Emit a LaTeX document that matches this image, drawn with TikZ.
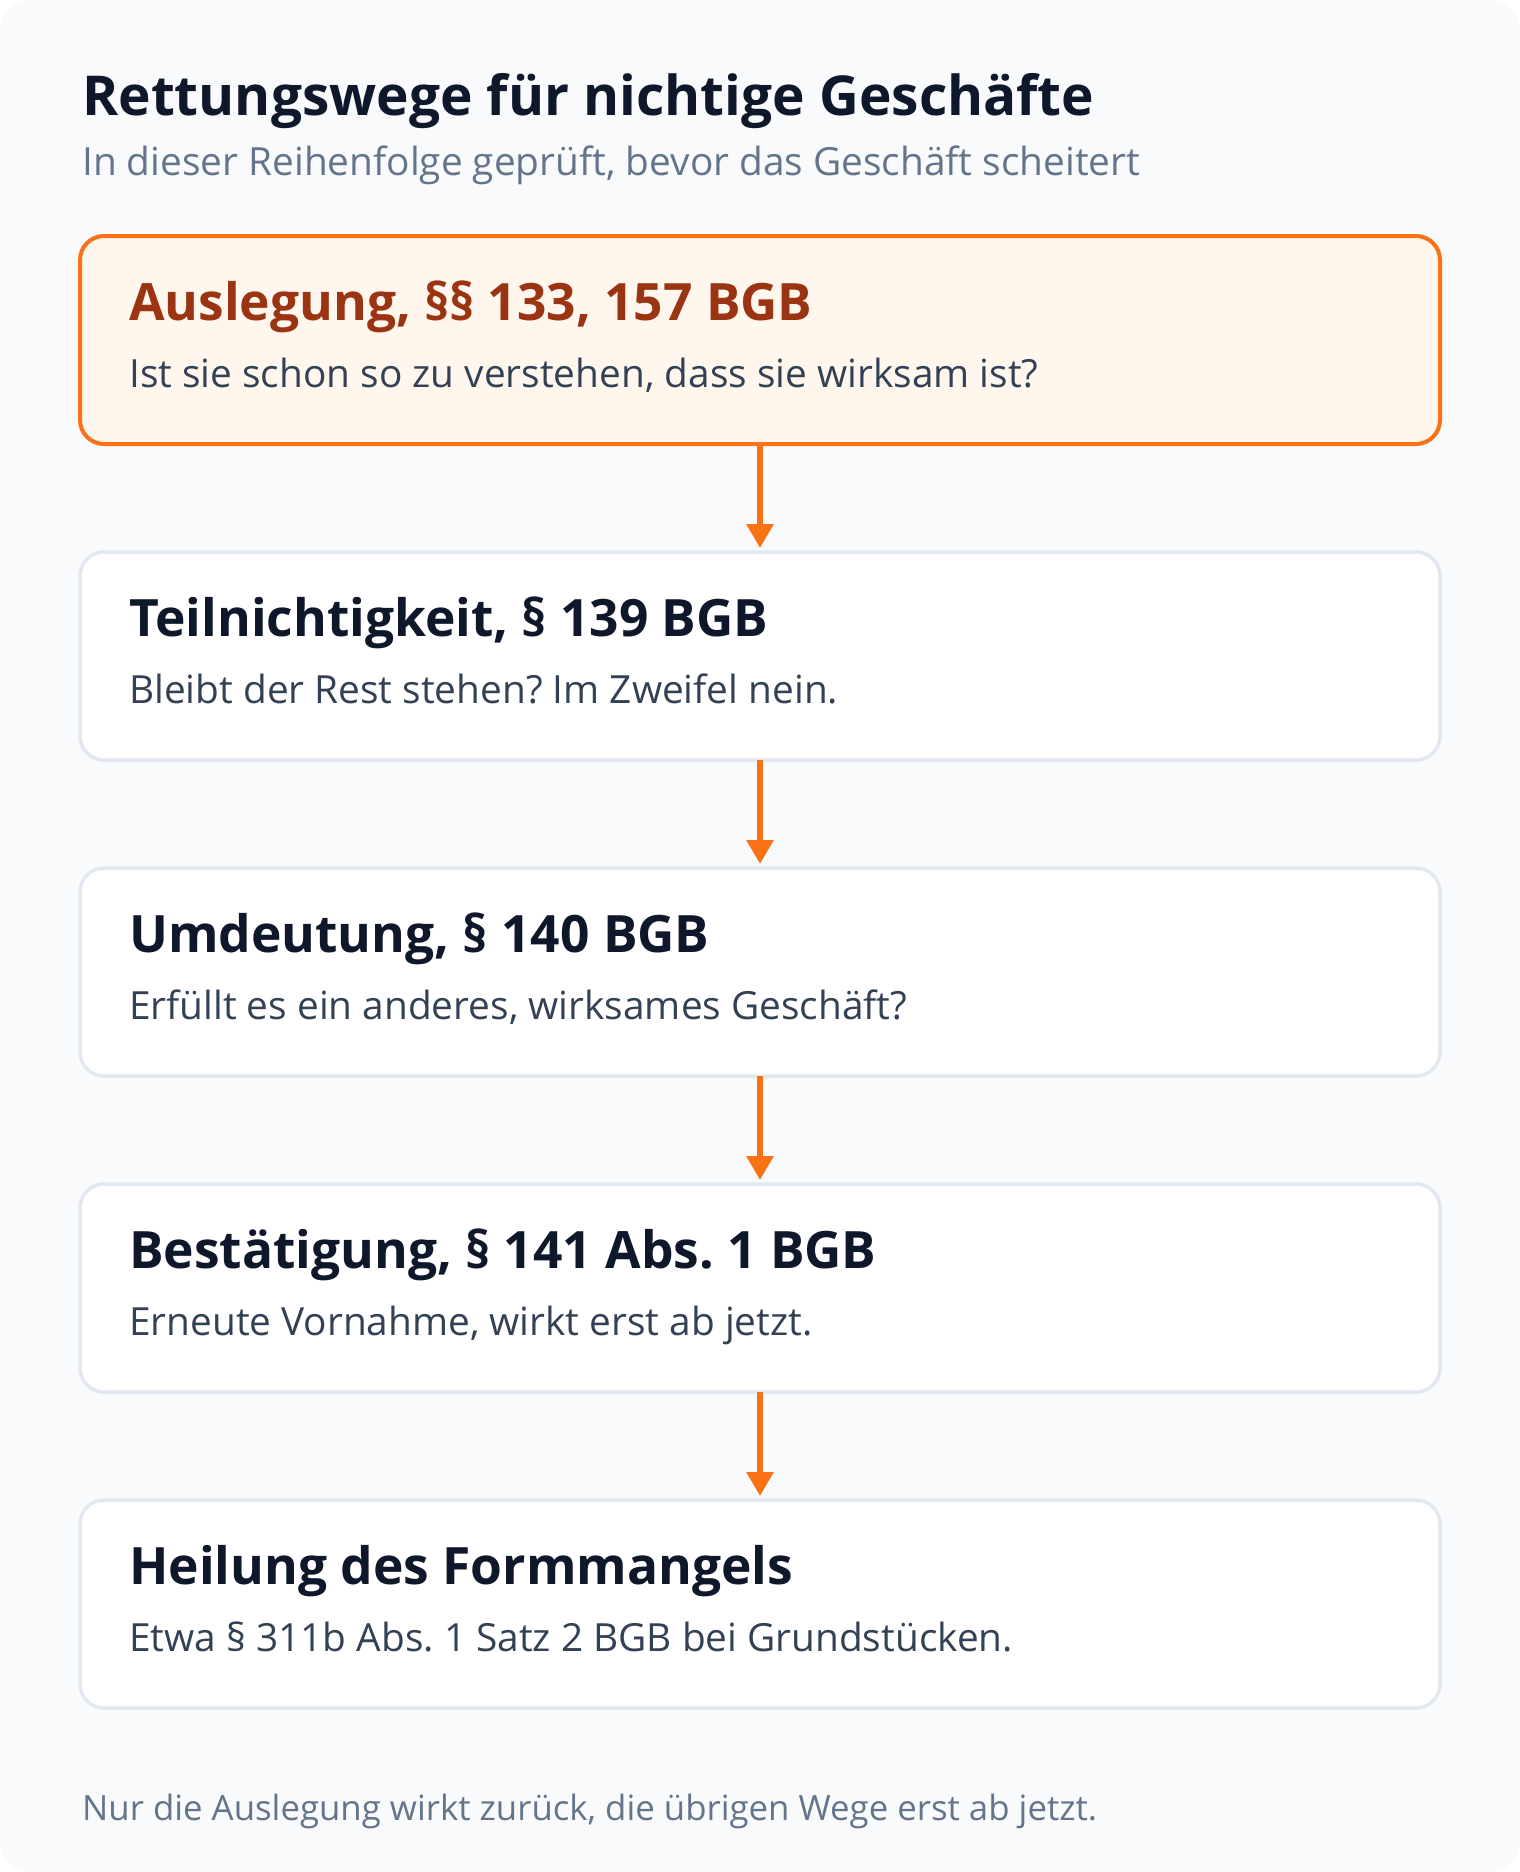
\documentclass[tikz,border=0pt]{standalone}
\usepackage{fontspec}
\setmainfont{Open Sans}
\frenchspacing
\usetikzlibrary{positioning,arrows.meta}
\definecolor{pagebg}{HTML}{F8FAFC}
\definecolor{ink}{HTML}{0F172A}
\definecolor{muted}{HTML}{64748B}
\definecolor{slate}{HTML}{334155}
\definecolor{rust}{HTML}{9A3412}
\definecolor{flame}{HTML}{F97316}
\definecolor{cream}{HTML}{FFF7ED}
\definecolor{rim}{HTML}{E2E8F0}
\begin{document}
\begin{tikzpicture}[x=1pt,y=-1pt,node distance=108pt,
  box/.style={draw=rim,fill=white,line width=3.5pt,rounded corners=24pt,
    minimum width=1360pt,minimum height=208pt,inner sep=0pt,outer sep=0pt},
  firstbox/.style={box,draw=flame,fill=cream,line width=4pt},
  head/.style={anchor=base west,inner sep=0pt,text=ink,
    font=\fontsize{51.5}{60}\selectfont\bfseries},
  note/.style={anchor=base west,inner sep=0pt,text=slate,
    font=\fontsize{38.8}{46}\selectfont},
  flow/.style={-{Triangle[width=26pt,length=24pt]},line width=6pt,color=flame,shorten >=4pt}]
\useasboundingbox (0,0) rectangle (1520,1872);
\fill[pagebg,rounded corners=28pt] (0,0) rectangle (1520,1872);

\node[head,font=\fontsize{55}{64}\selectfont\bfseries] (title) at (82,115) {Rettungswege für nichtige Geschäfte};
\node[note,text=muted] (subtitle) at (82,175)
  {In dieser Reihenfolge geprüft, bevor das Geschäft scheitert};

\node[firstbox] (Ausl) at (760,340) {};
\node[box] (Teil) [below=of Ausl] {};
\node[box] (Umd) [below=of Teil] {};
\node[box] (Best) [below=of Umd] {};
\node[box] (Heil) [below=of Best] {};

\node[head,text=rust] (AuslH) at ([shift={(49,84)}]Ausl.north west) {Auslegung, §§ 133, 157 BGB};
\node[note] (AuslT) at ([shift={(49,151)}]Ausl.north west) {Ist sie schon so zu verstehen, dass sie wirksam ist?};
\node[head] (TeilH) at ([shift={(49,84)}]Teil.north west) {Teilnichtigkeit, § 139 BGB};
\node[note] (TeilT) at ([shift={(49,151)}]Teil.north west) {Bleibt der Rest stehen? Im Zweifel nein.};
\node[head] (UmdH) at ([shift={(49,84)}]Umd.north west) {Umdeutung, § 140 BGB};
\node[note] (UmdT) at ([shift={(49,151)}]Umd.north west) {Erfüllt es ein anderes, wirksames Geschäft?};
\node[head] (BestH) at ([shift={(49,84)}]Best.north west) {Bestätigung, § 141 Abs. 1 BGB};
\node[note] (BestT) at ([shift={(49,151)}]Best.north west) {Erneute Vornahme, wirkt erst ab jetzt.};
\node[head] (HeilH) at ([shift={(49,84)}]Heil.north west) {Heilung des Formmangels};
\node[note] (HeilT) at ([shift={(49,151)}]Heil.north west) {Etwa § 311b Abs. 1 Satz 2 BGB bei Grundstücken.};

\node[note,text=muted,font=\fontsize{34.8}{40}\selectfont] (foot) at (82,1820)
  {Nur die Auslegung wirkt zurück, die übrigen Wege erst ab jetzt.};

\path[flow] (Ausl) edge (Teil);
\path[flow] (Teil) edge (Umd);
\path[flow] (Umd) edge (Best);
\path[flow] (Best) edge (Heil);
\end{tikzpicture}
\end{document}
